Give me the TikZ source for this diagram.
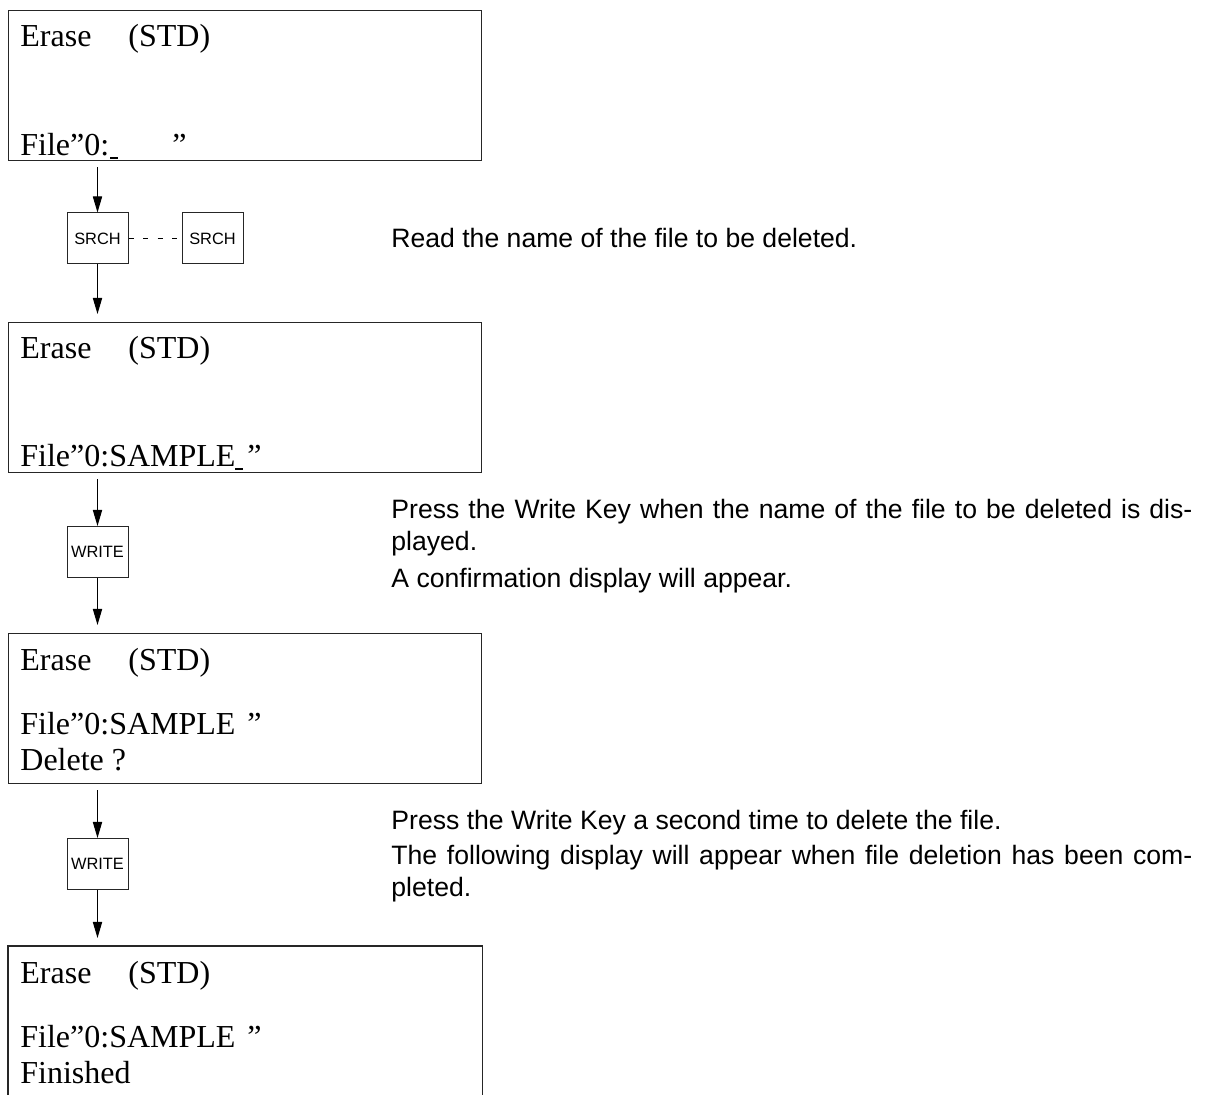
\documentclass[tikz,border=0pt]{standalone}
\usepackage{fontspec}
\setmainfont{Liberation Serif}
\newfontfamily\arialfont{Liberation Sans}
\usetikzlibrary{arrows.meta}
\tikzset{
  screen/.style={draw=black!85, line width=0.7pt, minimum width=236.5pt, minimum height=75pt, inner sep=0pt, anchor=north west},
  screenline/.style={draw=black!85, line width=0.7pt},
  scrtext/.style={font=\fontsize{16}{19}\selectfont, inner sep=0pt, anchor=base west},
  keybox/.style={draw=black!85, line width=0.5pt, minimum width=30.5pt, minimum height=25.5pt, inner sep=0pt, font=\arialfont\fontsize{8.2}{9.6}\selectfont},
  flow/.style={line width=0.5pt, -{Triangle[length=8pt,width=4.6pt]}},
  keylink/.style={line width=0.5pt, dash pattern=on 2.5pt off 4.8pt},
  desc/.style={font=\arialfont\fontsize{13.3}{15.75}\selectfont, text width=400.5pt, align=justify, inner sep=0pt, anchor=base west},
  cursor/.style={line width=0.8pt},
}
\begin{document}
\begin{tikzpicture}[x=0.5pt,y=-0.5pt]
\useasboundingbox (0,0) rectangle (1206,1095);

% screens
\node[screen] (s1) at (8,10) {};
\node[screen] (s2) at (8,322) {};
\node[screen] (s3) at (8,633) {};
\node[screen, draw=none, minimum height=74.5pt] (s4) at (8,946) {};
\draw[screenline] (s4.south west) -- (s4.north west) -- (s4.north east) -- (s4.south east);

% screen 1 text
\node[scrtext] (s1a) at (20,47) {Erase};
\node[scrtext] (s1b) at (128,47) {(STD)};
\node[scrtext] (s1c) at (20,156) {File”0:};
\node[scrtext] (s1d) at (172,156) {”};
\draw[cursor] (110,158) -- (118,158);

% screen 2 text
\node[scrtext] (s2a) at (20,359) {Erase};
\node[scrtext] (s2b) at (128,359) {(STD)};
\node[scrtext] (s2c) at (20,467) {File”0:SAMPLE};
\node[scrtext] (s2d) at (247,467) {”};
\draw[cursor] (235,469) -- (243,469);

% screen 3 text
\node[scrtext] (s3a) at (20,671) {Erase};
\node[scrtext] (s3b) at (128,671) {(STD)};
\node[scrtext] (s3c) at (20,735) {File”0:SAMPLE};
\node[scrtext] (s3d) at (247,735) {”};
\node[scrtext] (s3e) at (20,771) {Delete ?};

% screen 4 text
\node[scrtext] (s4a) at (20,984) {Erase};
\node[scrtext] (s4b) at (128,984) {(STD)};
\node[scrtext] (s4c) at (20,1048) {File”0:SAMPLE};
\node[scrtext] (s4d) at (247,1048) {”};
\node[scrtext] (s4e) at (20,1084) {Finished};

% keys
\node[keybox] (k1) at (97.5,238.5) {SRCH};
\node[keybox] (k2) at (212.5,238.5) {SRCH};
\node[keybox] (w1) at (97.5,552) {WRITE};
\node[keybox] (w2) at (97.5,864) {WRITE};
\draw[keylink] (k1.east) -- (k2.west);

% connectors
\path (k1.north |- s1.south) ++(0,6) coordinate (a1);
\path (k1.south |- s2.north) ++(0,-8) coordinate (b1);
\path (w1.north |- s2.south) ++(0,6) coordinate (a2);
\path (w1.south |- s3.north) ++(0,-8) coordinate (b2);
\path (w2.north |- s3.south) ++(0,6) coordinate (a3);
\path (w2.south |- s4.north) ++(0,-8) coordinate (b3);
\draw[flow] (a1) -- (k1.north);
\draw[flow] (k1.south) -- (b1);
\draw[flow] (a2) -- (w1.north);
\draw[flow] (w1.south) -- (b2);
\draw[flow] (a3) -- (w2.north);
\draw[flow] (w2.south) -- (b3);

% descriptions
\node[desc] (t1) at (391,248) {Read the name of the file to be deleted.};
\node[desc] (t2) at (391,519) {Press the Write Key when the name of the file to be deleted is dis-\linebreak played.};
\node[desc] (t3) at (391,588) {A confirmation display will appear.};
\node[desc] (t4) at (391,830) {Press the Write Key a second time to delete the file.};
\node[desc] (t5) at (391,865) {The following display will appear when file deletion has been com-\linebreak pleted.};
\end{tikzpicture}
\end{document}
